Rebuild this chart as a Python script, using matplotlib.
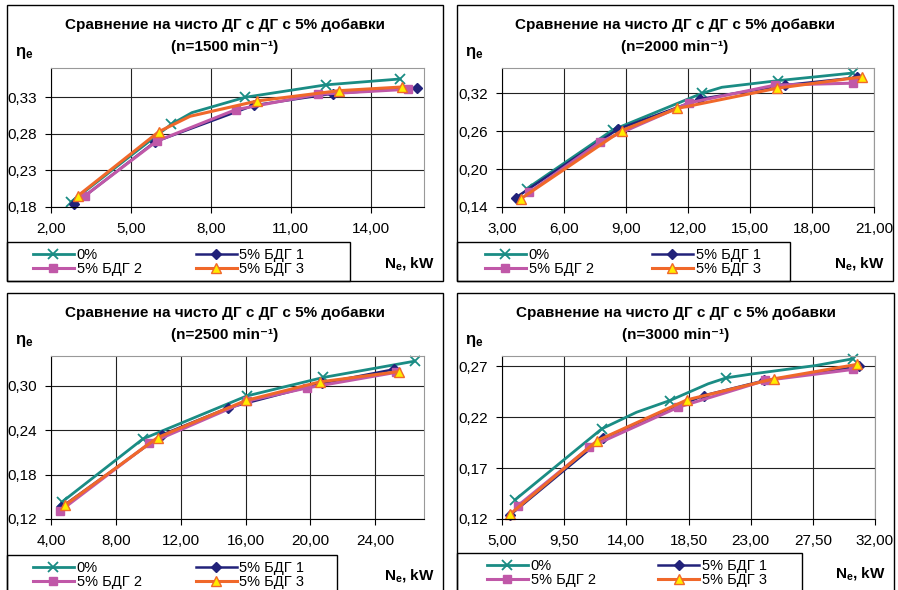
import matplotlib
matplotlib.use("Agg")
import matplotlib.pyplot as plt
from matplotlib.patches import Rectangle

plt.rcParams['font.family'] = ['Liberation Sans', 'DejaVu Sans']
plt.rcParams['mathtext.fontset'] = 'custom'
plt.rcParams['mathtext.rm'] = 'Liberation Sans'
plt.rcParams['mathtext.it'] = 'Liberation Sans:italic'
plt.rcParams['mathtext.bf'] = 'Liberation Sans:bold'

SERIES = ["0%", "5% БДГ 1", "5% БДГ 2", "5% БДГ 3"]
SPEEDS = [1500, 2000, 2500, 3000]

# --- n = 1500 min-1 ---
ne_1500_0 = [2.76, 6.51, 7.29, 9.29, 12.33, 15.10]
eta_1500_0 = [0.187, 0.293, 0.309, 0.330, 0.347, 0.355]
ne_1500_1 = [2.88, 5.90, 9.62, 12.58, 15.73]
eta_1500_1 = [0.184, 0.269, 0.319, 0.335, 0.343]
ne_1500_2 = [3.26, 5.97, 8.93, 12.01, 15.41]
eta_1500_2 = [0.195, 0.270, 0.313, 0.334, 0.341]
ne_1500_3 = [3.00, 6.05, 7.22, 9.75, 12.80, 15.16]
eta_1500_3 = [0.195, 0.283, 0.304, 0.325, 0.339, 0.344]

# --- n = 2000 min-1 ---
ne_2000_0 = [4.20, 8.36, 12.68, 13.64, 16.36, 19.96]
eta_2000_0 = [0.169, 0.262, 0.320, 0.3295, 0.340, 0.352]
ne_2000_1 = [3.67, 8.60, 12.60, 16.71, 20.20]
eta_2000_1 = [0.155, 0.263, 0.311, 0.333, 0.345]
ne_2000_2 = [4.31, 7.75, 12.07, 16.23, 20.00]
eta_2000_2 = [0.163, 0.243, 0.305, 0.333, 0.336]
ne_2000_3 = [3.91, 8.79, 11.48, 16.31, 20.44]
eta_2000_3 = [0.153, 0.261, 0.296, 0.328, 0.346]

# --- n = 2500 min-1 ---
ne_2500_0 = [4.68, 9.66, 16.06, 20.78, 26.42]
eta_2500_0 = [0.143, 0.228, 0.286, 0.311, 0.333]
ne_2500_1 = [4.64, 10.87, 14.93, 20.68, 25.15]
eta_2500_1 = [0.136, 0.234, 0.270, 0.303, 0.322]
ne_2500_2 = [4.57, 10.05, 16.06, 19.80, 25.29]
eta_2500_2 = [0.131, 0.222, 0.279, 0.297, 0.318]
ne_2500_3 = [4.88, 10.58, 16.02, 20.57, 25.46]
eta_2500_3 = [0.139, 0.230, 0.280, 0.305, 0.319]

# --- n = 3000 min-1 ---
ne_3000_0 = [5.96, 12.22, 14.74, 17.15, 19.92, 21.24, 23.17, 27.74, 30.38]
eta_3000_0 = [0.139, 0.2085, 0.2248, 0.2363, 0.2527, 0.2586, 0.2625, 0.2707, 0.2772]
ne_3000_1 = [5.60, 12.34, 19.60, 24.00, 30.86]
eta_3000_1 = [0.124, 0.1996, 0.2412, 0.256, 0.2697]
ne_3000_2 = [6.13, 11.33, 17.75, 24.06, 30.38]
eta_3000_2 = [0.1328, 0.1904, 0.2297, 0.256, 0.2668]
ne_3000_3 = [5.60, 11.90, 18.40, 24.68, 30.67]
eta_3000_3 = [0.1249, 0.197, 0.237, 0.2576, 0.2717]

# measured points that carry a marker (the rest only shape the line)
marked_1500_0 = [0, 1, 3, 4, 5]
marked_1500_3 = [0, 1, 3, 4, 5]
marked_2000_0 = [0, 1, 2, 4, 5]
marked_3000_0 = [0, 1, 3, 5, 8]

# axis scales per speed
x_lims = [(2, 16), (3, 21), (4, 27), (5, 32)]
x_ticks = [[2, 5, 8, 11, 14], [3, 6, 9, 12, 15, 18, 21],
           [4, 8, 12, 16, 20, 24], [5, 9.5, 14, 18.5, 23, 27.5, 32]]
y_lims = [(0.18, 0.37), (0.14, 0.36), (0.12, 0.34), (0.12, 0.28)]
y_ticks = [[0.18, 0.23, 0.28, 0.33], [0.14, 0.20, 0.26, 0.32],
           [0.12, 0.18, 0.24, 0.30], [0.12, 0.17, 0.22, 0.27]]

data = {
    1500: [(ne_1500_0, eta_1500_0, marked_1500_0), (ne_1500_1, eta_1500_1, None),
           (ne_1500_2, eta_1500_2, None), (ne_1500_3, eta_1500_3, marked_1500_3)],
    2000: [(ne_2000_0, eta_2000_0, marked_2000_0), (ne_2000_1, eta_2000_1, None),
           (ne_2000_2, eta_2000_2, None), (ne_2000_3, eta_2000_3, None)],
    2500: [(ne_2500_0, eta_2500_0, None), (ne_2500_1, eta_2500_1, None),
           (ne_2500_2, eta_2500_2, None), (ne_2500_3, eta_2500_3, None)],
    3000: [(ne_3000_0, eta_3000_0, marked_3000_0), (ne_3000_1, eta_3000_1, None),
           (ne_3000_2, eta_3000_2, None), (ne_3000_3, eta_3000_3, None)],
}

styles = [
    dict(color="#1a8c84", lw=2.0, marker="x", ms=7, mew=1.3, mec="#1a8c84"),
    dict(color="#22227a", lw=1.8, marker="D", ms=5, mfc="#22227a", mec="#22227a"),
    dict(color="#c058a8", lw=2.2, marker="s", ms=6, mfc="#c058a8", mec="#c058a8"),
    dict(color="#f0682a", lw=2.2, marker="^", ms=7, mfc="#ffec00", mec="#f0682a", mew=1.0),
]

W, H = 898, 590
fig = plt.figure(figsize=(W / 100, H / 100), dpi=100)


def fx(px):
    return px / W


def fy(py):
    return 1 - py / H


# pixel layout of each chart block
panels = [
    dict(frame=(7, 5, 443, 281), plot=(51, 68, 424, 207), leg=(7, 242, 350, 281),
         ty=25, lh=26, cs=3.7),
    dict(frame=(457, 5, 893, 281), plot=(502, 68, 874, 207), leg=(457, 242, 790, 281),
         ty=25, lh=28, cs=4.0),
    dict(frame=(7, 293, 443, 600), plot=(51, 356, 424, 519), leg=(7, 555, 337, 600),
         ty=313, lh=26, cs=3.7),
    dict(frame=(457, 293, 894, 600), plot=(502, 356, 875, 519), leg=(457, 553, 802, 600),
         ty=313, lh=30, cs=4.3),
]

for i, speed in enumerate(SPEEDS):
    p = panels[i]
    x0, y0, x1, y1 = p["frame"]
    fig.patches.append(Rectangle((fx(x0), fy(y1)), fx(x1 - x0), (y1 - y0) / H,
                                 transform=fig.transFigure, fill=False,
                                 ec="black", lw=1.0, zorder=0))
    lx0, ly0, lx1, ly1 = p["leg"]
    fig.patches.append(Rectangle((fx(lx0), fy(ly1)), fx(lx1 - lx0), (ly1 - ly0) / H,
                                 transform=fig.transFigure, fill=False,
                                 ec="black", lw=1.0, zorder=0))

    ax0, ay0, ax1, ay1 = p["plot"]
    ax = fig.add_axes([fx(ax0), fy(ay1), fx(ax1 - ax0), (ay1 - ay0) / H])

    handles = []
    for (xs, ys, marked), name, st in zip(data[speed], SERIES, styles):
        h, = ax.plot(xs, ys, label=name, markevery=marked, clip_on=False, **st)
        handles.append(h)

    ax.set_xlim(*x_lims[i])
    ax.set_ylim(*y_lims[i])
    ax.set_xticks(x_ticks[i])
    ax.set_yticks(y_ticks[i])
    ax.set_xticklabels([f"{v:.2f}".replace(".", ",") for v in x_ticks[i]])
    ax.set_yticklabels([f"{v:.2f}".replace(".", ",") for v in y_ticks[i]])
    ax.tick_params(direction="out", length=4, width=0.8, labelsize=11)
    ax.tick_params(axis="x", pad=7)
    ax.tick_params(axis="y", pad=6)
    ax.grid(True, color="#222222", lw=0.8)
    ax.set_axisbelow(True)
    for side in ("top", "right"):
        ax.spines[side].set_color("#999999")
    for side in ("left", "bottom"):
        ax.spines[side].set_color("black")

    cx = (x0 + x1) / 2
    ty = p["ty"]
    fig.text(fx(cx), fy(ty), "Сравнение на чисто ДГ с ДГ с 5% добавки",
             ha="center", va="center", fontsize=11, fontweight="bold")
    fig.text(fx(cx), fy(ty + 22), f"(n={speed} min⁻¹)",
             ha="center", va="center", fontsize=11, fontweight="bold")
    fig.text(fx(x0 + 8), fy(ty + 28), r"$\mathbf{\eta_e}$",
             ha="left", va="center", fontsize=12)
    fig.text(fx(x1 - 8), fy(ly0 + 21), r"N$_\mathbf{e}$, kW",
             ha="right", va="center", fontsize=11, fontweight="bold")

    order = [handles[0], handles[2], handles[1], handles[3]]
    fig.legend(order, [h.get_label() for h in order], ncol=2, frameon=False,
               loc="upper left", bbox_to_anchor=(fx(lx0 + p["lh"]), fy(ly0 + 6)),
               borderaxespad=0, borderpad=0, fontsize=10.5, handlelength=2.8,
               handletextpad=0.2, columnspacing=p["cs"], labelspacing=0.0)

fig.savefig("out.png", dpi=100)
